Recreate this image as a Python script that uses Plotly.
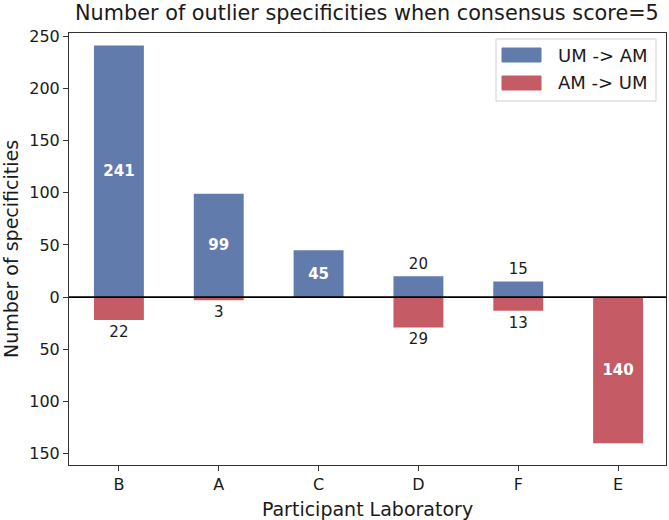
import plotly.graph_objects as go

labs = ["B", "A", "C", "D", "F", "E"]
um_to_am = [241, 99, 45, 20, 15, 0]
am_to_um = [22, 3, 0, 29, 13, 140]
series_names = ["UM -> AM", "AM -> UM"]
ytick_vals = [-150, -100, -50, 0, 50, 100, 150, 200, 250]
ytick_text = ["150", "100", "50", "0", "50", "100", "150", "200", "250"]

BLUE = "rgb(97,123,172)"
RED = "rgb(197,92,101)"
FONT = "DejaVu Sans"
INK = "#1a1a1a"
THRESH = 40


def text_cfg(vals):
    texts, pos, colors = [], [], []
    for v in vals:
        if v == 0:
            texts.append("")
            pos.append("none")
            colors.append("black")
        elif v >= THRESH:
            texts.append(f"<b>{v}</b>")
            pos.append("inside")
            colors.append("white")
        else:
            texts.append(str(v))
            pos.append("outside")
            colors.append(INK)
    return texts, pos, colors


t1, p1, c1 = text_cfg(um_to_am)
t2, p2, c2 = text_cfg(am_to_um)

fig = go.Figure()
fig.add_trace(go.Bar(
    x=labs, y=um_to_am, name=series_names[0], marker=dict(color=BLUE, line=dict(width=0)),
    width=0.5, text=t1, textposition=p1, insidetextanchor="middle",
    textfont=dict(color=c1, size=15, family=FONT), cliponaxis=False,
))
fig.add_trace(go.Bar(
    x=labs, y=[-v for v in am_to_um], name=series_names[1], marker=dict(color=RED, line=dict(width=0)),
    width=0.5, text=t2, textposition=p2, insidetextanchor="middle",
    textfont=dict(color=c2, size=15, family=FONT), cliponaxis=False,
))

fig.add_hline(y=0, line=dict(color="black", width=1.6))

# legend drawn manually (matplotlib-style wide patches)
L = 69
PW = 669 - 69 - 3
PH = 520 - 33 - 55


def px(xp):
    return (xp - L) / PW


def py(yp):
    return (520 - 55 - yp) / PH


fig.add_shape(type="rect", xref="paper", yref="paper",
              x0=px(496), x1=px(656), y0=py(101), y1=py(39),
              line=dict(color="#d0d0d0", width=1), fillcolor="rgba(255,255,255,0.85)")
for i, (nm, col) in enumerate(zip(series_names, [BLUE, RED])):
    yc = 55 + i * 28
    fig.add_shape(type="rect", xref="paper", yref="paper",
                  x0=px(502), x1=px(541), y0=py(yc + 7), y1=py(yc - 7),
                  line=dict(color=col, width=1), fillcolor=col)
    fig.add_annotation(xref="paper", yref="paper", x=px(556), y=py(yc),
                       xanchor="left", yanchor="middle", text=nm, showarrow=False,
                       font=dict(size=18, family=FONT, color=INK))

fig.update_layout(
    width=669, height=520,
    barmode="overlay",
    paper_bgcolor="white", plot_bgcolor="white",
    margin=dict(l=L, r=3, t=33, b=55),
    font=dict(family=FONT, size=16, color=INK),
    title=dict(text="Number of outlier specificities when consensus score=5",
               x=0.5485, xanchor="center", y=0.976, yanchor="middle",
               font=dict(size=20.8, family=FONT, color=INK)),
    showlegend=False,
)
fig.update_xaxes(
    range=[-0.5, 5.48], showgrid=False, zeroline=False, automargin=False,
    showline=True, mirror=True, linecolor="#333333", linewidth=1,
    ticks="outside", ticklen=5, tickcolor="#333333",
    tickfont=dict(size=16, family=FONT),
    title=dict(text="Participant Laboratory", font=dict(size=19, family=FONT)),
)
fig.update_yaxes(
    range=[-160.8, 253], showgrid=False, zeroline=False, automargin=False,
    showline=True, mirror=True, linecolor="#333333", linewidth=1,
    ticks="outside", ticklen=5, tickcolor="#333333",
    tickvals=ytick_vals, ticktext=ytick_text,
    tickfont=dict(size=16, family=FONT),
    title=dict(text="Number of specificities", font=dict(size=19, family=FONT)),
)

fig.write_html("out.html", config={"displayModeBar": False},
               post_script="document.body.style.margin='0';document.body.style.padding='0';")
